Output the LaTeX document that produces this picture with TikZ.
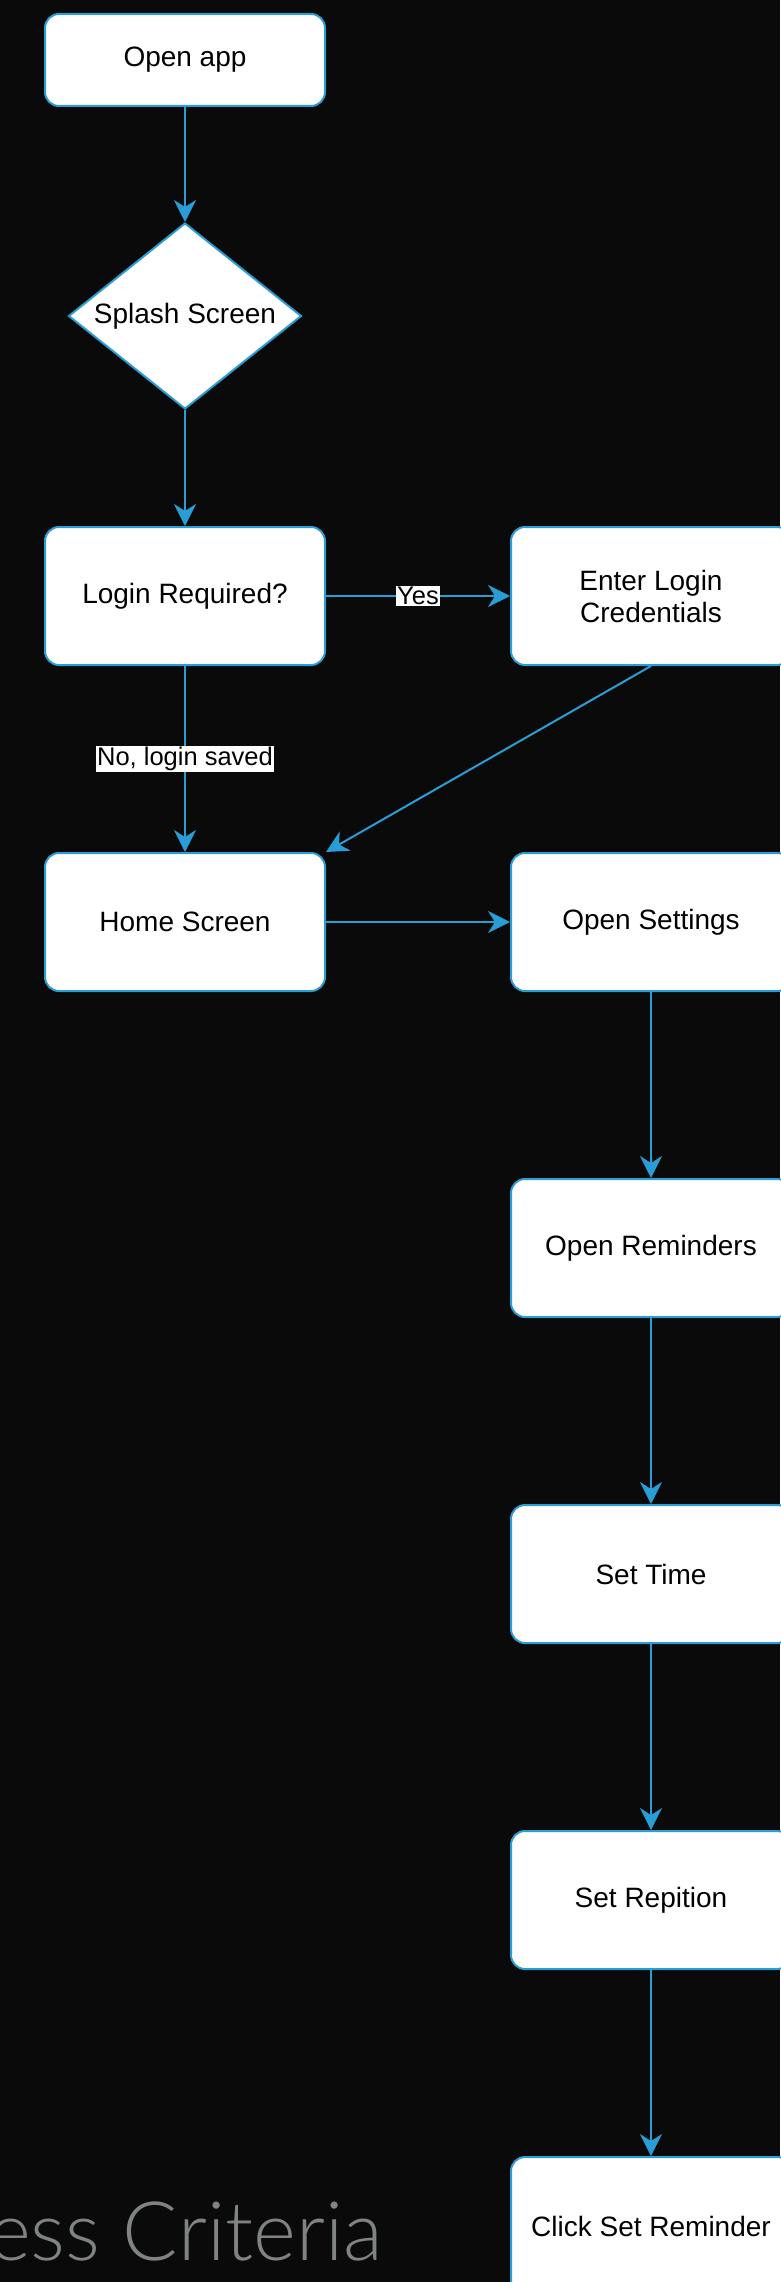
\documentclass[tikz,border=0pt]{standalone}
\usepackage{fontspec}
\setmainfont{Liberation Sans}
\newfontfamily\titlefont{Lato Light}
\usetikzlibrary{shapes.geometric,arrows.meta}
\definecolor{bgc}{RGB}{10,10,10}
\definecolor{edgeblue}{RGB}{41,158,214}
\definecolor{titlegray}{RGB}{128,131,132}
\tikzset{
  stepbox/.style={draw=edgeblue, line width=2pt, fill=white, rounded corners=14pt,
    minimum width=280pt, minimum height=138pt, inner sep=0pt, align=center,
    font=\fontsize{28}{32}\selectfont, text=black},
  decision/.style={draw=edgeblue, line width=2pt, fill=white, diamond, aspect=1.25,
    minimum width=233pt, minimum height=186pt, inner sep=0pt,
    font=\fontsize{28}{32}\selectfont, text=black},
  flow/.style={draw=edgeblue, line width=2pt,
    -{Stealth[length=22pt, width=22pt, inset=7pt]}},
  elabel/.style={fill=white, text=black, inner sep=1pt,
    font=\fontsize{25.5}{28}\selectfont}
}
\begin{document}
\begin{tikzpicture}[x=1pt,y=-1pt]
\fill[bgc] (0,0) rectangle (780,2282);
\useasboundingbox (0,0) rectangle (780,2282);

\node[stepbox, minimum height=92pt] (open) at (185,60) {Open app};
\node[decision] (splash) at (185,316) {Splash Screen};
\node[stepbox] (login) at (185,596) {Login Required?};
\node[stepbox] (enter) at (651,596) {Enter Login\\Credentials};
\node[stepbox] (home) at (185,922) {Home Screen};
\node[stepbox] (settings) at (651,922) {Open Settings};
\node[stepbox] (reminders) at (651,1248) {Open Reminders};
\node[stepbox] (settime) at (651,1574) {Set Time};
\node[stepbox] (repeat) at (651,1900) {Set Repition};
\node[stepbox] (click) at (651,2226) {Click Set Reminder};

\node[anchor=base east, text=titlegray, inner sep=0pt,
  font=\titlefont\fontsize{82}{90}\selectfont] (title) at (383,2260) {ess Criteria};

\draw[flow] (open) -- (splash);
\draw[flow] (splash) -- (login);
\draw[flow] (login) -- node[elabel] {Yes} (enter);
\draw[flow] (login) -- node[elabel] {No, login saved} (home);
\draw[flow] (enter.south) -- (home.north east);
\draw[flow] (home) -- (settings);
\draw[flow] (settings) -- (reminders);
\draw[flow] (reminders) -- (settime);
\draw[flow] (settime) -- (repeat);
\draw[flow] (repeat) -- (click);
\end{tikzpicture}
\end{document}
